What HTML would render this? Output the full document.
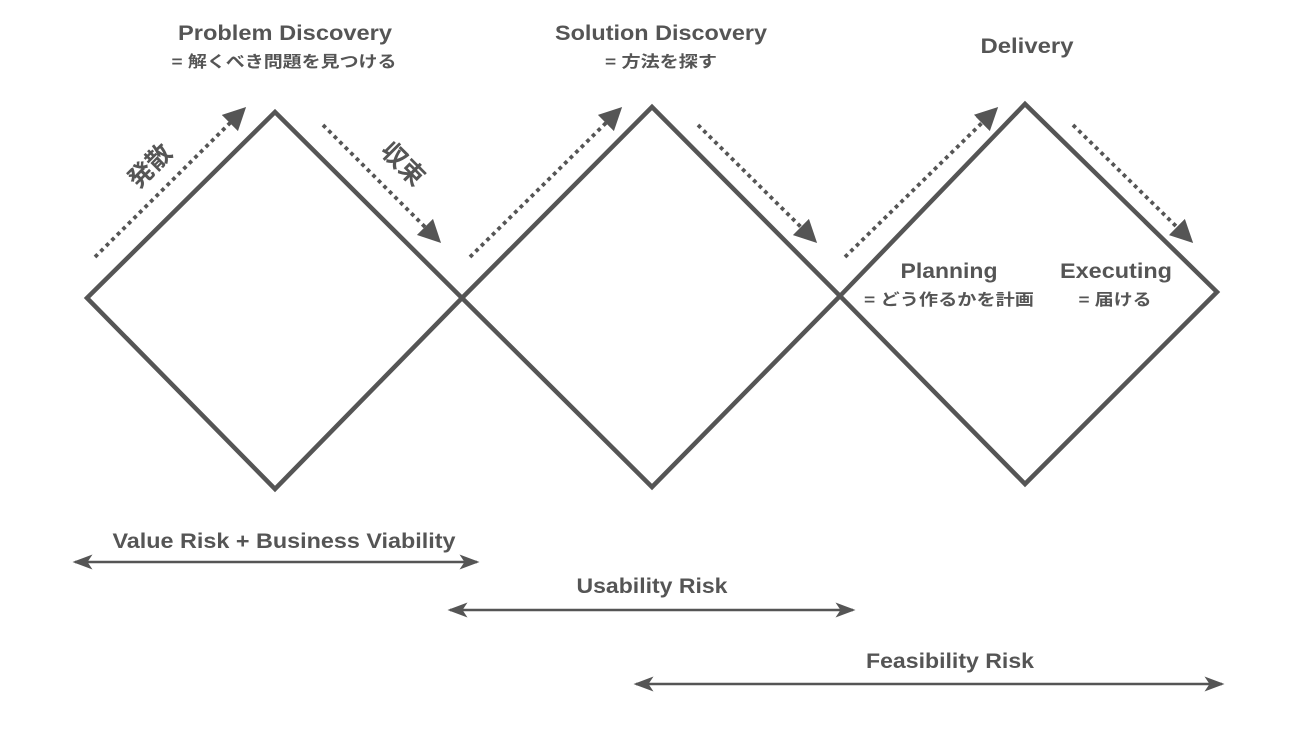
<!DOCTYPE html>
<html><head><meta charset="utf-8"><style>
body{margin:0;background:#fff;}
svg text{font-family:"Liberation Sans","Noto Sans CJK JP",sans-serif;font-weight:bold;fill:#555;}
</style></head><body>
<svg width="1304" height="728" viewBox="0 0 1304 728" xmlns="http://www.w3.org/2000/svg">
<defs>
<marker id="ah" markerWidth="6" markerHeight="6" refX="3" refY="3" orient="auto" markerUnits="strokeWidth">
<path d="M0,0 L6,3 L0,6 Z" fill="#555"/></marker>
<marker id="sh" markerWidth="8" markerHeight="6" refX="1" refY="3" orient="auto" markerUnits="strokeWidth">
<path d="M0,3 L8,0 L6,3 L8,6 Z" fill="#555"/></marker>
<marker id="eh" markerWidth="8" markerHeight="6" refX="7" refY="3" orient="auto" markerUnits="strokeWidth">
<path d="M8,3 L0,0 L2,3 L0,6 Z" fill="#555"/></marker>
</defs>
<g fill="none" stroke="#555" stroke-width="4.5" stroke-linejoin="miter">
<polygon points="87,298 275,112 462,298 275,489"/>
<polygon points="462,298 652,107 840,296 652,487"/>
<polygon points="840,296 1025,104 1217,292 1025,484"/>
</g>
<g stroke="#555" stroke-width="3.8" stroke-dasharray="3.8 4" fill="none" marker-end="url(#ah)">
<line x1="95" y1="257" x2="238" y2="115"/>
<line x1="323" y1="125" x2="433" y2="235"/>
<line x1="470" y1="257" x2="614" y2="115"/>
<line x1="698" y1="125" x2="809" y2="235"/>
<line x1="845" y1="257" x2="990" y2="115"/>
<line x1="1073" y1="125" x2="1185" y2="235"/>
</g>
<g stroke="#555" stroke-width="2.5" marker-start="url(#sh)" marker-end="url(#eh)">
<line x1="75" y1="562" x2="477" y2="562"/>
<line x1="450" y1="610" x2="853" y2="610"/>
<line x1="636" y1="684" x2="1222" y2="684"/>
</g>
<text x="285" y="40" font-size="21" text-anchor="middle" textLength="214" lengthAdjust="spacingAndGlyphs">Problem Discovery</text>
<text x="284" y="67" font-size="16" text-anchor="middle" textLength="225" lengthAdjust="spacingAndGlyphs">= 解くべき問題を見つける</text>
<text x="661" y="40" font-size="21" text-anchor="middle" textLength="212" lengthAdjust="spacingAndGlyphs">Solution Discovery</text>
<text x="661" y="67" font-size="16" text-anchor="middle" textLength="112" lengthAdjust="spacingAndGlyphs">= 方法を探す</text>
<text x="1027" y="53" font-size="21" text-anchor="middle" textLength="93" lengthAdjust="spacingAndGlyphs">Delivery</text>
<text x="949" y="278" font-size="21" text-anchor="middle" textLength="97" lengthAdjust="spacingAndGlyphs">Planning</text>
<text x="949" y="305" font-size="16" text-anchor="middle" textLength="170" lengthAdjust="spacingAndGlyphs">= どう作るかを計画</text>
<text x="1116" y="278" font-size="21" text-anchor="middle" textLength="112" lengthAdjust="spacingAndGlyphs">Executing</text>
<text x="1115" y="305" font-size="16" text-anchor="middle" textLength="73" lengthAdjust="spacingAndGlyphs">= 届ける</text>
<text x="156" y="172" font-size="25" text-anchor="middle" transform="rotate(-45 156 172)">発散</text>
<text x="397" y="170" font-size="25" text-anchor="middle" transform="rotate(45 397 170)">収束</text>
<text x="284" y="548" font-size="21" text-anchor="middle" textLength="343" lengthAdjust="spacingAndGlyphs">Value Risk + Business Viability</text>
<text x="652" y="593" font-size="21" text-anchor="middle" textLength="151" lengthAdjust="spacingAndGlyphs">Usability Risk</text>
<text x="950" y="668" font-size="21" text-anchor="middle" textLength="168" lengthAdjust="spacingAndGlyphs">Feasibility Risk</text>
</svg>
</body></html>
